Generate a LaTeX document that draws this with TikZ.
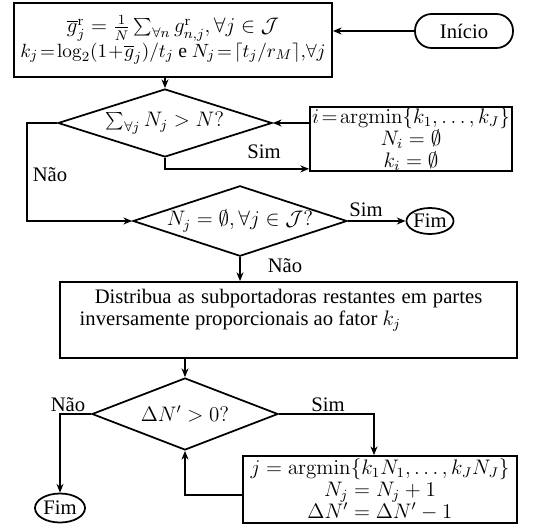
\documentclass[tikz,border=0pt]{standalone}
\usepackage[no-math]{fontspec}
\setmainfont{Liberation Serif}
\usetikzlibrary{shapes.geometric,arrows.meta}
\tikzset{
  x=0.5714pt, y=-0.5714pt,
  every node/.style={font=\fontsize{11.8}{12.4}\selectfont},
  box/.style={draw, line width=1pt, rectangle, inner sep=0pt, align=center},
  dec/.style={draw, line width=1pt, diamond, inner sep=0pt, aspect=3},
  term/.style={draw, line width=1pt, ellipse, inner sep=0pt},
  conn/.style={line width=1pt},
  arr/.style={conn, -{Stealth[length=5pt,width=4pt]}},
  lbl/.style={inner sep=0pt}
}
\begin{document}
\begin{tikzpicture}
\useasboundingbox (0,0) rectangle (553,528);
% nodes
\node[box, minimum width=318*0.5714pt, minimum height=74*0.5714pt] (b1) at (173,40)
  {$\overline{g}^{\mathrm{r}}_j = \frac{1}{N}\sum_{\forall n} g^{\mathrm{r}}_{n,j}, \forall j \in \mathcal{J}$\\
   {\fontsize{11.2}{12.4}\selectfont$k_j\!=\!\log_2(1\!+\!\overline{g}_j)/t_j$ e $N_j\!=\!\lceil t_j/r_M\rceil,\!\forall j$}};
\node[draw, line width=1pt, rectangle, rounded corners=9.5pt, inner sep=0pt,
  minimum width=98*0.5714pt, minimum height=34*0.5714pt] (ini) at (464,31) {Início};
\node[dec, minimum width=214*0.5714pt, minimum height=68*0.5714pt] (d1) at (165,123)
  {$\sum_{\forall j} N_j > N?$};
\node[box, minimum width=202*0.5714pt, minimum height=64*0.5714pt] (b2) at (411,139)
  {$i\!=\!\mathrm{argmin}\{k_1,\ldots,k_J\}$\\ $N_i=\emptyset$\\ $k_i=\emptyset$};
\node[dec, minimum width=214*0.5714pt, minimum height=67*0.5714pt] (d2) at (240,221)
  {$N_j=\emptyset, \forall j\in\mathcal{J}?$};
\node[term, minimum width=46*0.5714pt, minimum height=26*0.5714pt] (f1) at (430,221) {Fim};
\node[box, minimum width=457*0.5714pt, minimum height=76*0.5714pt] (b3) at (288.5,320) {};
\node[inner sep=0pt, text width=230pt, align=justify] (t3) at (281,310)
  {\hspace*{8.6pt}Distribua as subportadoras restantes em partes\linebreak inversamente proporcionais ao fator $k_j$};
\node[dec, minimum width=186*0.5714pt, minimum height=72*0.5714pt] (d3) at (185,414)
  {$\Delta N' > 0?$};
\node[term, minimum width=50*0.5714pt, minimum height=29*0.5714pt] (f2) at (60,508) {Fim};
\node[box, minimum width=274*0.5714pt, minimum height=67*0.5714pt] (b4) at (380,489.5)
  {$j=\mathrm{argmin}\{k_1N_1,\ldots,k_JN_J\}$\\ $N_j=N_j+1$\\ $\Delta N'=\Delta N'-1$};
% helper coordinates
\coordinate (nx) at (27,0);
\coordinate (sx) at (374,0);
\coordinate (ly) at (0,495);
% connectors
\draw[arr] (ini.west) -- (ini.west -| b1.east);
\draw[arr] (d1.north |- b1.south) -- (d1.north);
\draw[arr] (d1.east -| b2.west) -- (d1.east);
\draw[arr] (d1.south) -- ++(0,11) coordinate (s1) -- (s1 -| b2.west);
\draw[arr] (d1.west) -- (d1.west -| nx) |- (d2.west);
\draw[arr] (d2.east) -- (f1.west);
\draw[arr] (d2.south) -- (d2.south |- b3.north);
\draw[arr] (d3.north |- b3.south) -- (d3.north);
\draw[arr] (d3.west) -| (f2.north);
\draw[arr] (d3.east) -| (sx |- b4.north);
\draw[arr] (ly -| b4.west) -| (d3.south);
% labels
\node[lbl] (l1) at (264,152) {Sim};
\node[lbl] (l2) at (50,175) {Não};
\node[lbl] (l3) at (366,210) {Sim};
\node[lbl] (l4) at (285,266) {Não};
\node[lbl] (l5) at (68,405) {Não};
\node[lbl] (l6) at (328,405) {Sim};
\end{tikzpicture}
\end{document}
